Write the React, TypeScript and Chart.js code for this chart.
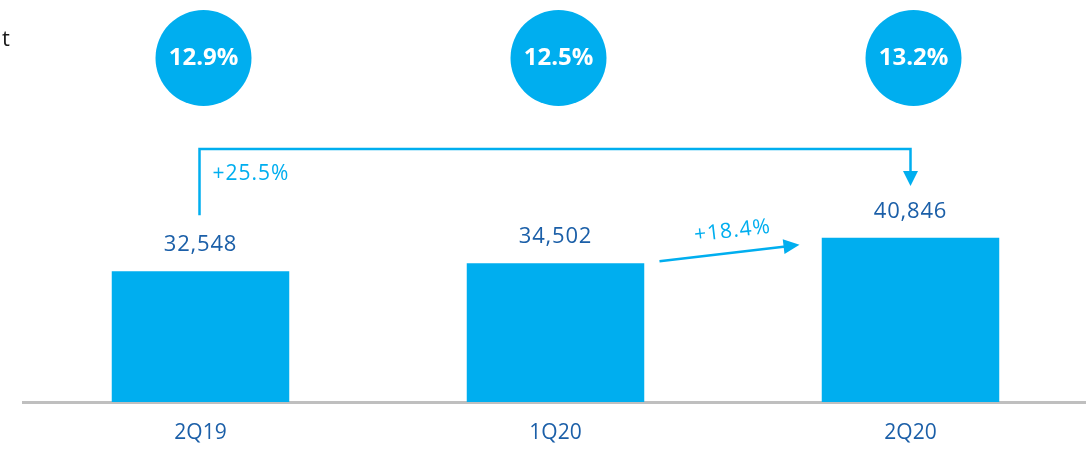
import React, { useEffect, useRef } from 'react';
import { Chart, registerables } from 'chart.js';
Chart.register(...registerables);

const categories = ['2Q19', '1Q20', '2Q20'];
const revenue = [32548, 34502, 40846];
const margins = ['12.9%', '12.5%', '13.2%'];
const yoyGrowth = '+25.5%';
const qoqGrowth = '+18.4%';
const titleFragment = 't';

const CYAN = '#00AEEF';
const NAVY = '#1B5FA8';
const FONT = '"Open Sans", "DejaVu Sans", sans-serif';

function arrowHead(ctx: CanvasRenderingContext2D, tx: number, ty: number, angle: number, len: number, half: number) {
  ctx.save();
  ctx.translate(tx, ty);
  ctx.rotate(angle);
  ctx.beginPath();
  ctx.moveTo(0, 0);
  ctx.lineTo(-len, -half);
  ctx.lineTo(-len, half);
  ctx.closePath();
  ctx.fill();
  ctx.restore();
}

const overlay = {
  id: 'overlay',
  afterDatasetsDraw(chart: any) {
    const ctx: CanvasRenderingContext2D = chart.ctx;
    const meta = chart.getDatasetMeta(0);
    const xs = chart.scales.x;
    ctx.save();

    // cut-off title fragment
    ctx.fillStyle = '#1a1a1a';
    ctx.font = `22px ${FONT}`;
    ctx.textAlign = 'left';
    ctx.textBaseline = 'alphabetic';
    ctx.fillText(titleFragment, 2, 46);

    // value labels
    ctx.fillStyle = NAVY;
    ctx.font = `22px ${FONT}`;
    (ctx as any).letterSpacing = '0.8px';
    ctx.textAlign = 'center';
    meta.data.forEach((bar: any, i: number) => {
      ctx.fillText(revenue[i].toLocaleString('en-US'), bar.x, bar.y - 20);
    });
    (ctx as any).letterSpacing = '0px';

    // margin circles
    categories.forEach((_c, i) => {
      const x = xs.getPixelForValue(i) + 3;
      ctx.beginPath();
      ctx.arc(x, 58, 48, 0, Math.PI * 2);
      ctx.fillStyle = CYAN;
      ctx.fill();
      ctx.fillStyle = '#ffffff';
      ctx.font = `bold 24px ${FONT}`;
      ctx.textAlign = 'center';
      ctx.textBaseline = 'middle';
      ctx.fillText(margins[i], x, 58);
    });

    // YoY bracket arrow
    const b0 = meta.data[0];
    const b1 = meta.data[1];
    const b2 = meta.data[2];
    const x0 = b0.x - 1;
    const x2 = b2.x;
    ctx.strokeStyle = CYAN;
    ctx.fillStyle = CYAN;
    ctx.lineWidth = 2.5;
    ctx.beginPath();
    ctx.moveTo(x0, b0.y - 56);
    ctx.lineTo(x0, 149);
    ctx.lineTo(x2, 149);
    ctx.lineTo(x2, 173);
    ctx.stroke();
    arrowHead(ctx, x2, 186, Math.PI / 2, 15, 7.5);

    ctx.font = `21px ${FONT}`;
    (ctx as any).letterSpacing = '1px';
    ctx.textAlign = 'left';
    ctx.textBaseline = 'middle';
    ctx.fillText(yoyGrowth, x0 + 13, 174);

    // QoQ arrow
    const sx = b1.x + 104;
    const sy = b1.y - 2;
    const ex = b2.x - 111;
    const ey = b2.y + 7;
    const ang = Math.atan2(ey - sy, ex - sx);
    ctx.beginPath();
    ctx.moveTo(sx, sy);
    ctx.lineTo(ex - Math.cos(ang) * 14, ey - Math.sin(ang) * 14);
    ctx.stroke();
    arrowHead(ctx, ex, ey, ang, 16, 7.5);

    ctx.save();
    ctx.translate((sx + ex) / 2 + 3, (sy + ey) / 2 - 22);
    ctx.rotate(ang);
    ctx.textAlign = 'center';
    ctx.fillText(qoqGrowth, 0, 0);
    ctx.restore();

    ctx.restore();
  },
};

export default function App() {
  const ref = useRef<HTMLCanvasElement>(null);
  useEffect(() => {
    if (!ref.current) return;
    const chart = new Chart(ref.current, {
      type: 'bar',
      data: {
        labels: categories,
        datasets: [
          {
            data: revenue,
            backgroundColor: CYAN,
            borderWidth: 0,
            categoryPercentage: 0.5,
            barPercentage: 1,
          },
        ],
      },
      options: {
        animation: false,
        responsive: false,
        devicePixelRatio: 1,
        layout: { padding: { left: 23, right: 0, top: 0, bottom: 0 } },
        plugins: { legend: { display: false }, tooltip: { enabled: false } },
        scales: {
          x: {
            grid: { display: false, drawTicks: false },
            border: { display: true, color: '#BFBFBF', width: 3 },
            ticks: { color: NAVY, font: { family: FONT, size: 21 }, padding: 18 },
            afterFit: (axis: any) => {
              axis.height = 47;
            },
          },
          y: { display: false, min: 0, max: 100000 },
        },
      } as any,
      plugins: [overlay],
    });
    return () => chart.destroy();
  }, []);
  return (
    <div style={{ position: 'fixed', left: 0, top: 0, width: 1088, height: 449, background: '#fff' }}>
      <canvas ref={ref} width={1088} height={449} style={{ width: 1088, height: 449, display: 'block' }} />
    </div>
  );
}
